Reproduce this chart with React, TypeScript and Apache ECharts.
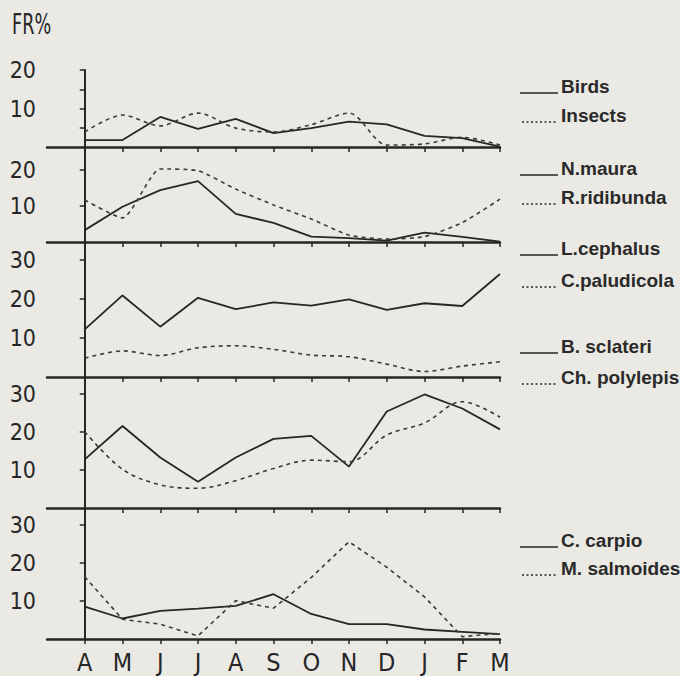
import React, { useEffect, useRef } from "react";
import * as echarts from "echarts";

const months = ["A", "M", "J", "J", "A", "S", "O", "N", "D", "J", "F", "M"];

const birds = [1.8, 1.8, 7.8, 4.7, 7.3, 3.6, 4.9, 6.6, 5.9, 2.9, 2.3, 0.1];
const insects = [3.9, 8.3, 5.5, 8.8, 4.9, 3.9, 5.8, 8.8, 0.5, 0.8, 2.5, 0.5];

const nMaura = [3.3, 9.8, 14.4, 16.9, 7.8, 5.3, 1.5, 1.1, 0.4, 2.6, 1.4, 0.1];
const rRidibunda = [11.7, 6.7, 20.3, 19.8, 14.7, 10.3, 6.4, 1.9, 0.8, 1.5, 5.4, 11.9];

const lCephalus = [12.2, 20.9, 12.9, 20.3, 17.4, 19.1, 18.3, 19.9, 17.2, 18.9, 18.2, 26.4];
const cPaludicola = [4.8, 6.7, 5.5, 7.5, 8.0, 7.1, 5.6, 5.2, 3.3, 1.4, 2.8, 3.9];

const bSclateri = [12.8, 21.6, 13.3, 6.9, 13.3, 18.2, 19.0, 10.9, 25.4, 29.9, 26.2, 20.7];
const chPolylepis = [20.1, 10.2, 6.1, 5.2, 7.2, 10.4, 12.6, 12.2, 19.2, 22.4, 28.0, 23.9];

const cCarpio = [8.5, 5.4, 7.4, 8.0, 8.7, 11.8, 6.6, 3.9, 3.9, 2.5, 1.9, 1.3];
const mSalmoides = [16.4, 5.2, 3.9, 0.8, 10.1, 8.1, 16.2, 25.6, 18.9, 11.1, 0.6, 1.5];

const solidSeries = [birds, nMaura, lCephalus, bSclateri, cCarpio];
const dashedSeries = [insects, rRidibunda, cPaludicola, chPolylepis, mSalmoides];
const legendNames = [
  ["Birds", "Insects"],
  ["N.maura", "R.ridibunda"],
  ["L.cephalus", "C.paludicola"],
  ["B. sclateri", "Ch. polylepis"],
  ["C. carpio", "M. salmoides"],
];
const yTickLabels = [
  [10, 20],
  [10, 20],
  [10, 20, 30],
  [10, 20, 30],
  [10, 20, 30],
];
const yTicks = [[5, 10, 15, 20], [10, 20], [10, 20, 30], [10, 20, 30], [10, 20, 30]];

// layout
const panels = [
  { top: 70, height: 77, max: 20 },
  { top: 147, height: 95, max: 26.4 },
  { top: 242, height: 135, max: 34.6 },
  { top: 377, height: 131, max: 34.5 },
  { top: 508, height: 131, max: 34.5 },
];
const legendBaselines = [
  [93, 122],
  [175, 204],
  [255, 287],
  [353, 384],
  [547, 575],
];
const dashedSmooth = [0.3, 0.2, 0.3, 0.35, 0];

const INK = "#262626";
const NARROW = "'Liberation Sans Narrow', 'DejaVu Sans Condensed', 'Roboto Condensed', sans-serif";

export default function App() {
  const ref = useRef<HTMLDivElement>(null);
  useEffect(() => {
    if (!ref.current) return;
    const chart = echarts.init(ref.current, null, { renderer: "svg" });
    const monthIdx = months.map((_, i) => i);

    const grids = panels.map((p) => ({ left: 47, right: 180, top: p.top, height: p.height }));
    const xAxes = panels.map((p, i) => ({
      type: "value",
      gridIndex: i,
      min: -1,
      max: months.length - 1,
      axisLine: { show: true, onZero: false, lineStyle: { color: INK, width: 2.5 } },
      axisTick: {
        show: true,
        customValues: monthIdx,
        length: 5,
        inside: false,
        lineStyle: { color: INK, width: 1.5 },
      },
      axisLabel: {
        show: i === panels.length - 1,
        customValues: monthIdx,
        formatter: (v: number) => months[Math.round(v)] ?? "",
        margin: 11,
        fontFamily: NARROW,
        fontSize: 25,
        lineHeight: 24,
        color: INK,
      },
      splitLine: { show: false },
    }));
    const yAxes = panels.map((p, i) => ({
      type: "value",
      gridIndex: i,
      min: 0,
      max: p.max,
      axisLine: { show: true, lineStyle: { color: INK, width: 2 } },
      axisTick: {
        show: true,
        customValues: yTicks[i],
        length: 5,
        lineStyle: { color: INK, width: 1.5 },
      },
      axisLabel: {
        show: true,
        customValues: yTickLabels[i],
        margin: 11,
        fontFamily: NARROW,
        fontSize: 23,
        color: INK,
      },
      splitLine: { show: false },
    }));

    const series: any[] = [];
    panels.forEach((_, i) => {
      series.push({
        type: "line",
        name: legendNames[i][0],
        xAxisIndex: i,
        yAxisIndex: i,
        symbol: "none",
        data: solidSeries[i].map((v, k) => [k, v]),
        lineStyle: { color: INK, width: 1.8, type: "solid" },
      });
      series.push({
        type: "line",
        name: legendNames[i][1],
        xAxisIndex: i,
        yAxisIndex: i,
        symbol: "none",
        smooth: dashedSmooth[i] || false,
        data: dashedSeries[i].map((v, k) => [k, v]),
        lineStyle: { color: "#3a3a3a", width: 1.6, type: [4, 4] },
      });
    });

    const graphics: any[] = [
      {
        type: "text",
        x: 12,
        y: 11,
        scaleX: 0.7,
        style: { text: "FR%", fontFamily: NARROW, fontSize: 28, fill: INK },
      },
    ];
    legendNames.forEach((pair, i) => {
      pair.forEach((name, j) => {
        const y = legendBaselines[i][j];
        graphics.push({
          type: "line",
          shape: { x1: j === 0 ? 520 : 522, y1: y, x2: 558, y2: y },
          style: {
            stroke: INK,
            lineWidth: j === 0 ? 1.6 : 1.3,
            lineDash: j === 0 ? null : [2, 2.5],
          },
        });
        graphics.push({
          type: "text",
          x: 561,
          y: y - 7,
          style: {
            text: name,
            fontFamily: "'Liberation Sans', Arial, sans-serif",
            fontWeight: "bold",
            fontSize: 19,
            fill: "#2a2a2a",
            verticalAlign: "middle",
            align: "left",
          },
        });
      });
    });

    chart.setOption({
      animation: false,
      backgroundColor: "#eae9e4",
      grid: grids,
      xAxis: xAxes,
      yAxis: yAxes,
      series,
      graphic: graphics,
    });
    return () => chart.dispose();
  }, []);
  return (
    <div
      ref={ref}
      style={{ position: "fixed", left: 0, top: 0, width: 680, height: 676, background: "#eae9e4" }}
    />
  );
}
